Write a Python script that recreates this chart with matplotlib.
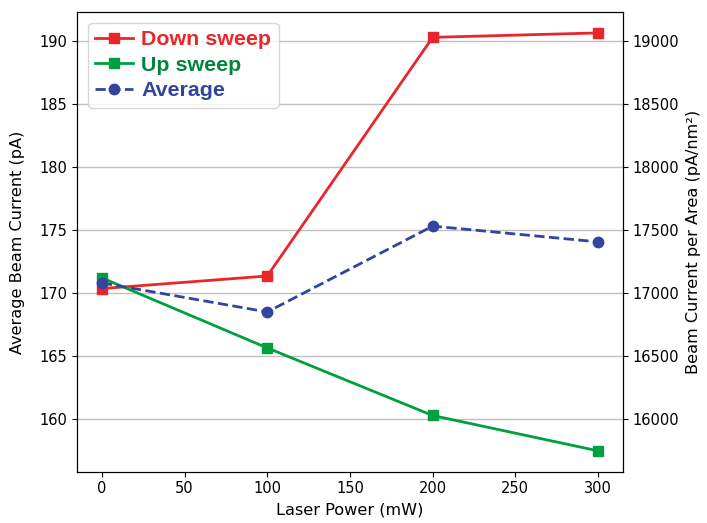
import matplotlib
matplotlib.use('Agg')
import matplotlib.pyplot as plt

# laser power settings
power = [0, 100, 200, 300]

# average beam current (pA)
down_sweep = [170.35, 171.35, 190.25, 190.6]
up_sweep = [171.2, 165.65, 160.3, 157.5]
average = [170.8, 168.5, 175.3, 174.05]

red = '#e8262b'
green = '#00a040'
blue = '#3344a0'

fig, ax = plt.subplots(figsize=(7.07, 5.23), dpi=100)

ax.plot(power, down_sweep, color=red, marker='s', markersize=7.5, lw=2, label='Down sweep')
ax.plot(power, up_sweep, color=green, marker='s', markersize=7.5, lw=2, label='Up sweep')
ax.plot(power, average, color=blue, marker='o', markersize=7.5, lw=2, ls='--', label='Average')

ax.set_xlabel('Laser Power (mW)', fontsize=11.6)
ax.set_ylabel('Average Beam Current (pA)', fontsize=11.6, labelpad=10)
ax.tick_params(labelsize=10.5)
ax.yaxis.grid(True, color='#c0c0c0', lw=1)
ax.set_axisbelow(True)

lo, hi = ax.get_ylim()
ax2 = ax.twinx()
ax2.set_ylim(lo * 100, hi * 100)
ax2.tick_params(labelsize=10.5)
ax2.set_ylabel('Beam Current per Area (pA/nm²)', fontsize=11.6, labelpad=5)

leg = ax.legend(loc='upper left', prop={'family': 'Liberation Sans', 'weight': 'bold', 'size': 15.4},
                handlelength=1.75, borderpad=0.35, labelspacing=0.3, handletextpad=0.4)
for txt, c in zip(leg.get_texts(), [red, '#00853e', blue]):
    txt.set_color(c)

plt.subplots_adjust(left=0.109, right=0.881, top=0.977, bottom=0.098)
plt.savefig('out.png')
